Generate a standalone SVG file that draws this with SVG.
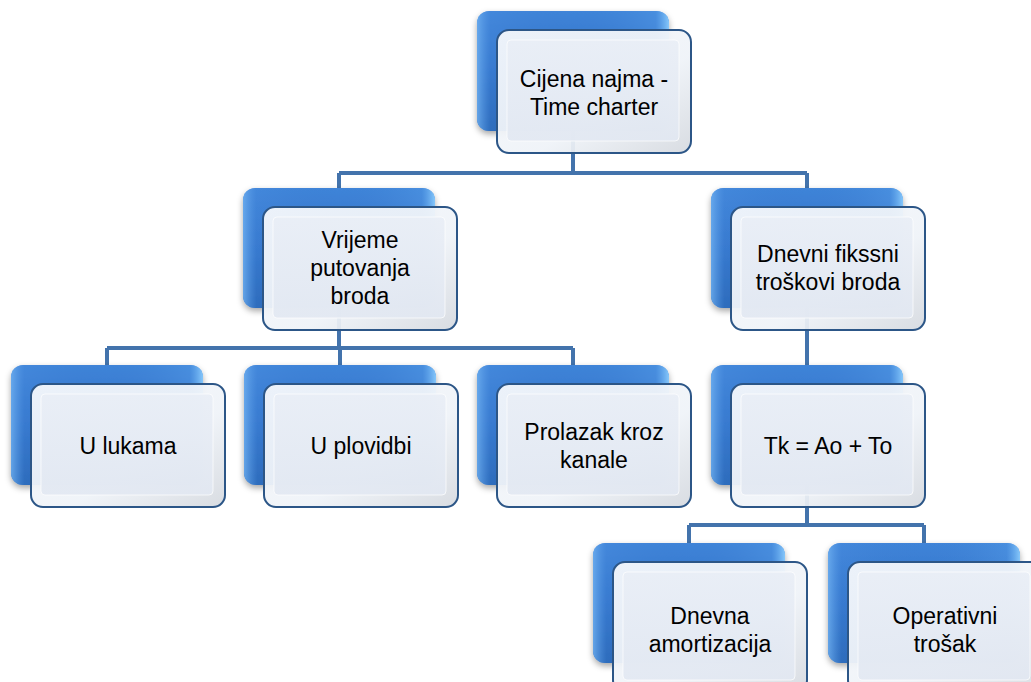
<svg xmlns="http://www.w3.org/2000/svg" width="1031" height="682" viewBox="0 0 1031 682">
<defs>
<linearGradient id="gBack" x1="0" y1="0" x2="0" y2="1">
<stop offset="0" stop-color="#3f84d8"/>
<stop offset="0.5" stop-color="#2f71c8"/>
<stop offset="1" stop-color="#225ead"/>
</linearGradient>
<linearGradient id="gBackSide" x1="0" y1="0" x2="1" y2="0">
<stop offset="0" stop-color="#6fb0f0" stop-opacity="0.85"/>
<stop offset="0.07" stop-color="#4d90e2" stop-opacity="0.3"/>
<stop offset="0.5" stop-color="#3b7ace" stop-opacity="0"/>
<stop offset="0.93" stop-color="#5fa6ee" stop-opacity="0.3"/>
<stop offset="1" stop-color="#8fd0ff" stop-opacity="0.9"/>
</linearGradient>
<linearGradient id="gFront" x1="0" y1="0" x2="1" y2="1">
<stop offset="0" stop-color="#f7f9fc"/>
<stop offset="0.6" stop-color="#eff3f8"/>
<stop offset="1" stop-color="#d6dae0"/>
</linearGradient>
<linearGradient id="gInner" x1="0" y1="0" x2="0" y2="1">
<stop offset="0" stop-color="#e9eef6"/>
<stop offset="1" stop-color="#e2e8f2"/>
</linearGradient>
<filter id="shadow" x="-10%" y="-10%" width="130%" height="130%">
<feDropShadow dx="0" dy="3" stdDeviation="3" flood-color="#000" flood-opacity="0.35"/>
</filter>
</defs>
<style>
.back{fill:url(#gBack);filter:url(#shadow);}
.backside{fill:url(#gBackSide);}
.front{fill:url(#gFront);fill-opacity:0.94;stroke:#2c5687;stroke-width:2;}
.inner{fill:url(#gInner);fill-opacity:0.9;stroke:#ffffff;stroke-width:1;stroke-opacity:0.7;}
.conn{fill:none;stroke:#4373ac;stroke-width:4;}
text{font-family:"Liberation Sans",Arial,sans-serif;font-size:23px;fill:#000;text-anchor:middle;}
</style>
<rect width="1031" height="682" fill="#ffffff"/>
<g id="connectors">
<path class="conn" d="M573,131 V173 M339,173 H807 M339,173 V188 M807,173 V188"/>
<path class="conn" d="M339,308 V348 M107,348 H573 M107,348 V365 M340,348 V365 M573,348 V365"/>
<path class="conn" d="M807,308 V365"/>
<path class="conn" d="M807,485 V525 M689,525 H924 M689,525 V543 M924,525 V543"/>
</g>
<g id="node-top">
<rect class="back" x="477" y="11" width="192" height="120" rx="12"/>
<rect class="backside" x="477" y="11" width="192" height="120" rx="12"/>
<rect class="front" x="497" y="30" width="194" height="123" rx="12"/>
<rect class="inner" x="507" y="40" width="172" height="101" rx="4"/>
<text x="594" y="87">Cijena najma -</text>
<text x="594" y="115">Time charter</text>
</g>
<g id="node-vrijeme">
<rect class="back" x="243" y="188" width="192" height="120" rx="12"/>
<rect class="backside" x="243" y="188" width="192" height="120" rx="12"/>
<rect class="front" x="263" y="207" width="194" height="123" rx="12"/>
<rect class="inner" x="273" y="217" width="172" height="101" rx="4"/>
<text x="360" y="248">Vrijeme</text>
<text x="360" y="276">putovanja</text>
<text x="360" y="304">broda</text>
</g>
<g id="node-dnevni">
<rect class="back" x="711" y="188" width="192" height="120" rx="12"/>
<rect class="backside" x="711" y="188" width="192" height="120" rx="12"/>
<rect class="front" x="731" y="207" width="194" height="123" rx="12"/>
<rect class="inner" x="741" y="217" width="172" height="101" rx="4"/>
<text x="828" y="262">Dnevni fikssni</text>
<text x="828" y="290">troškovi broda</text>
</g>
<g id="node-lukama">
<rect class="back" x="11" y="365" width="192" height="120" rx="12"/>
<rect class="backside" x="11" y="365" width="192" height="120" rx="12"/>
<rect class="front" x="31" y="384" width="194" height="123" rx="12"/>
<rect class="inner" x="41" y="394" width="172" height="101" rx="4"/>
<text x="128" y="454">U lukama</text>
</g>
<g id="node-plovidbi">
<rect class="back" x="244" y="365" width="192" height="120" rx="12"/>
<rect class="backside" x="244" y="365" width="192" height="120" rx="12"/>
<rect class="front" x="264" y="384" width="194" height="123" rx="12"/>
<rect class="inner" x="274" y="394" width="172" height="101" rx="4"/>
<text x="361" y="454">U plovidbi</text>
</g>
<g id="node-prolazak">
<rect class="back" x="477" y="365" width="192" height="120" rx="12"/>
<rect class="backside" x="477" y="365" width="192" height="120" rx="12"/>
<rect class="front" x="497" y="384" width="194" height="123" rx="12"/>
<rect class="inner" x="507" y="394" width="172" height="101" rx="4"/>
<text x="594" y="440">Prolazak kroz</text>
<text x="594" y="468">kanale</text>
</g>
<g id="node-tk">
<rect class="back" x="711" y="365" width="192" height="120" rx="12"/>
<rect class="backside" x="711" y="365" width="192" height="120" rx="12"/>
<rect class="front" x="731" y="384" width="194" height="123" rx="12"/>
<rect class="inner" x="741" y="394" width="172" height="101" rx="4"/>
<text x="828" y="454">Tk = Ao + To</text>
</g>
<g id="node-amortizacija">
<rect class="back" x="593" y="543" width="192" height="120" rx="12"/>
<rect class="backside" x="593" y="543" width="192" height="120" rx="12"/>
<rect class="front" x="613" y="562" width="194" height="130" rx="12"/>
<rect class="inner" x="623" y="572" width="172" height="108" rx="4"/>
<text x="710" y="624">Dnevna</text>
<text x="710" y="652">amortizacija</text>
</g>
<g id="node-operativni">
<rect class="back" x="828" y="543" width="192" height="120" rx="12"/>
<rect class="backside" x="828" y="543" width="192" height="120" rx="12"/>
<rect class="front" x="848" y="562" width="194" height="130" rx="12"/>
<rect class="inner" x="858" y="572" width="172" height="108" rx="4"/>
<text x="945" y="624">Operativni</text>
<text x="945" y="652">trošak</text>
</g>
</svg>
